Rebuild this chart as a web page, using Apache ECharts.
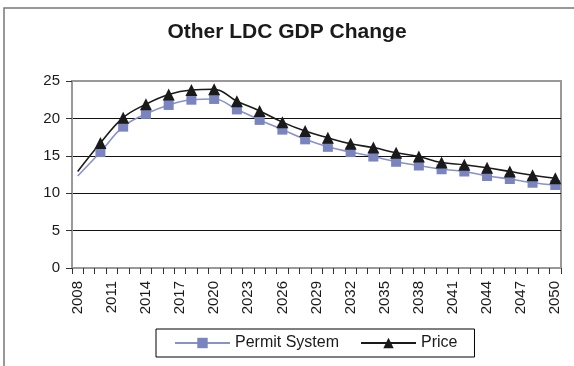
<!DOCTYPE html>
<html>
<head>
<meta charset="utf-8">
<script src="https://cdn.jsdelivr.net/npm/echarts@6/dist/echarts.min.js"></script>
<style>
  html, body { margin: 0; padding: 0; background: #fff; }
  #chart { width: 574px; height: 366px; }
</style>
</head>
<body>
<div id="chart"></div>
<script>
// Category axis: one slot per year
const years = ['2008','2009','2010','2011','2012','2013','2014','2015','2016','2017','2018',
  '2019','2020','2021','2022','2023','2024','2025','2026','2027','2028','2029','2030',
  '2031','2032','2033','2034','2035','2036','2037','2038','2039','2040','2041','2042',
  '2043','2044','2045','2046','2047','2048','2049','2050'];

// Years at which each series is sampled
const sampleYears = ['2008','2010','2012','2014','2016','2018','2020','2022','2024','2026','2028',
  '2030','2032','2034','2036','2038','2040','2042','2044','2046','2048','2050'];

// GDP change values
const permitSystem = [12.3, 15.5, 18.9, 20.6, 21.8, 22.5, 22.6, 21.2, 19.8, 18.5, 17.2,
  16.2, 15.5, 14.9, 14.2, 13.7, 13.2, 12.9, 12.3, 11.9, 11.4, 11.1];
const price = [12.9, 16.7, 20.1, 21.9, 23.2, 23.8, 23.9, 22.3, 21.0, 19.5, 18.3,
  17.4, 16.6, 16.1, 15.4, 14.9, 14.1, 13.8, 13.4, 12.9, 12.4, 12.0];

const yTicks = [0, 5, 10, 15, 20, 25];

const FONT = 'Liberation Sans, Arial, sans-serif';

// The opening (base-year) point carries no marker
function pairs(vals) {
  return sampleYears.map((y, i) => i === 0
    ? { value: [y, vals[i]], symbol: 'none' }
    : [y, vals[i]]);
}

const chart = echarts.init(document.getElementById('chart'), null, { renderer: 'canvas' });

chart.setOption({
  animation: false,
  backgroundColor: '#fff',
  textStyle: { fontFamily: FONT },
  title: {
    text: 'Other LDC GDP Change',
    left: 'center',
    top: 22,
    itemGap: 0,
    padding: 0,
    textStyle: { fontSize: 21, fontWeight: 'bold', color: '#1a1a1a', fontFamily: FONT }
  },
  graphic: [{
    type: 'rect',
    shape: { x: 4, y: 8, width: 600, height: 400 },
    style: { fill: 'none', stroke: '#777', lineWidth: 1.5 },
    silent: true,
    z: -1
  }],
  legend: {
    left: 156,
    top: 329,
    orient: 'horizontal',
    padding: [6, 17, 6, 18],
    itemWidth: 55,
    itemHeight: 13,
    itemGap: 21,
    borderColor: '#000',
    borderWidth: 1,
    textStyle: { fontSize: 16, color: '#1a1a1a', fontFamily: FONT },
    data: ['Permit System', 'Price']
  },
  grid: {
    left: 72, right: 13, top: 81, bottom: 98,
    show: true,
    borderColor: '#999',
    borderWidth: 2,
    containLabel: false
  },
  xAxis: {
    type: 'category',
    data: years,
    boundaryGap: true,
    axisLine: { show: true, lineStyle: { color: '#999', width: 2 } },
    axisTick: { show: true, interval: 0, length: 6, lineStyle: { color: '#333', width: 1 } },
    axisLabel: {
      interval: 2,
      rotate: 90,
      margin: 13,
      fontSize: 15,
      color: '#1a1a1a',
      fontFamily: FONT
    },
    splitLine: { show: false }
  },
  yAxis: {
    type: 'value',
    min: yTicks[0],
    max: yTicks[yTicks.length - 1],
    interval: 5,
    axisLine: { show: true, lineStyle: { color: '#999', width: 2 } },
    axisTick: { show: true, length: 6, lineStyle: { color: '#333', width: 1 } },
    axisLabel: { margin: 12, fontSize: 15, color: '#1a1a1a', fontFamily: FONT },
    splitLine: { show: true, showMinLine: false, showMaxLine: false, lineStyle: { color: '#111', width: 1 } }
  },
  series: [
    {
      name: 'Permit System',
      type: 'line',
      data: pairs(permitSystem),
      smooth: 0.4,
      showAllSymbol: true,
      symbol: 'rect',
      symbolSize: 10,
      lineStyle: { color: '#8891CC', width: 1.6 },
      itemStyle: { color: '#7A84BF' }
    },
    {
      name: 'Price',
      type: 'line',
      data: pairs(price),
      smooth: 0.4,
      showAllSymbol: true,
      symbol: 'triangle',
      symbolSize: 12,
      lineStyle: { color: '#1a1a1a', width: 1.6 },
      itemStyle: { color: '#1a1a1a' }
    }
  ]
});
</script>
</body>
</html>
